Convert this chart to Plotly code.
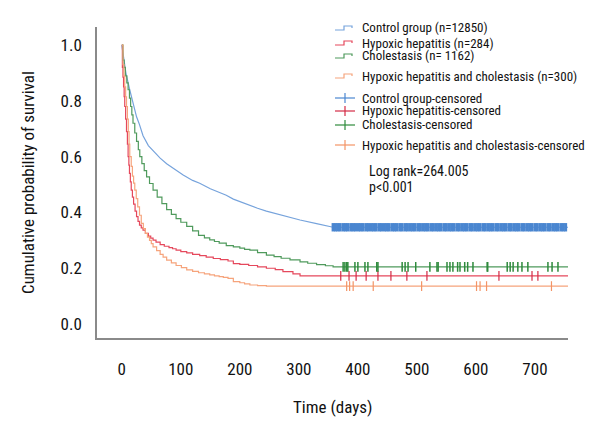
import plotly.graph_objects as go

# ---------------- data ----------------
ctrl_t = [0, 3, 7, 13.5, 20, 25, 30, 36, 45, 53, 65, 76, 90, 104, 120, 132, 150, 165, 177, 189,
          210, 230, 245, 270, 302, 330, 358, 756]
ctrl_s = [1.0, 0.95, 0.90, 0.84, 0.78, 0.743, 0.715, 0.675, 0.64, 0.622, 0.595, 0.575, 0.553, 0.534,
          0.515, 0.505, 0.485, 0.472, 0.462, 0.448, 0.43, 0.415, 0.405, 0.39, 0.373, 0.36, 0.347, 0.347]

hh_t = [0, 1, 2, 3, 4, 5, 6.5, 8, 9.5, 10.7, 12, 13, 14.5, 16, 18, 20, 22.5, 25, 27.5, 30, 33, 36,
        40, 45, 49, 53, 58, 65, 72, 80, 86, 92, 100, 110, 120, 132, 143, 155, 167, 180,
        189, 200, 215, 230, 245, 260, 273, 290, 302, 756]
hh_s = [1.0, 0.92, 0.885, 0.85, 0.815, 0.78, 0.735, 0.69, 0.645, 0.60, 0.57, 0.54, 0.51, 0.48,
        0.455, 0.43, 0.405, 0.385, 0.368, 0.355, 0.345, 0.337, 0.325, 0.315, 0.308, 0.301, 0.294,
        0.285, 0.279, 0.274, 0.27, 0.265, 0.26, 0.255, 0.25, 0.245, 0.24, 0.235, 0.231, 0.226,
        0.217, 0.214, 0.21, 0.205, 0.2, 0.195, 0.188, 0.18, 0.173, 0.173]

chol_t = [0, 2, 4, 6, 8.5, 10.7, 13, 15, 17, 19, 22, 25, 28, 30.5, 34, 38, 42, 47, 53, 60, 68, 76,
          84, 92, 100, 110, 120, 130, 140, 149, 157, 165, 177, 189, 200, 208, 217, 230, 245, 258,
          270, 285, 302, 315, 330, 345, 358, 756]
chol_s = [1.0, 0.946, 0.92, 0.89, 0.865, 0.84, 0.81, 0.78, 0.75, 0.72, 0.685, 0.655, 0.625, 0.60,
          0.575, 0.55, 0.528, 0.504, 0.48, 0.455, 0.432, 0.41, 0.393, 0.378, 0.365, 0.35, 0.334,
          0.318, 0.309, 0.302, 0.296, 0.29, 0.281, 0.277, 0.272, 0.268, 0.265, 0.256, 0.247, 0.242,
          0.236, 0.23, 0.223, 0.218, 0.213, 0.209, 0.205, 0.205]

hhc_t = [0, 2, 3.5, 5, 6.5, 8, 9.5, 11, 12.3, 13.5, 16, 18, 20, 22, 24.5, 27, 30, 33, 36.5, 40, 43.5,
         47, 50, 53, 59, 65, 70, 76, 84, 92, 101, 110, 120, 130, 140, 149, 157, 165, 172, 180,
         189, 200, 208, 217, 230, 245, 756]
hhc_s = [1.0, 0.93, 0.89, 0.85, 0.815, 0.78, 0.735, 0.69, 0.645, 0.60, 0.565, 0.53, 0.505, 0.48,
         0.45, 0.42, 0.39, 0.361, 0.342, 0.325, 0.312, 0.30, 0.288, 0.277, 0.263, 0.25, 0.24,
         0.229, 0.219, 0.21, 0.202, 0.194, 0.189, 0.184, 0.18, 0.176, 0.173, 0.17, 0.167, 0.164,
         0.152, 0.148, 0.144, 0.14, 0.138, 0.136, 0.136]

ctrl_cens = [358, 362, 366, 370, 375, 379, 383, 388, 392, 396, 401, 405, 409, 414, 418, 423, 427,
             431, 436, 440, 445, 449, 453, 458, 462, 466, 471, 475, 480, 484, 489, 493, 497, 502,
             506, 511, 515, 519, 524, 528, 533, 537, 541, 546, 550, 555, 559, 563, 568, 572, 577,
             581, 585, 590, 594, 599, 603, 607, 612, 616, 621, 625, 629, 634, 638, 643, 647, 651,
             656, 660, 665, 669, 673, 678, 682, 687, 691, 695, 700, 704, 709, 713, 717, 722, 726,
             731, 735, 739, 744, 748, 752]
hh_cens = [371, 385, 397, 414, 434, 456, 483, 517, 639, 695, 705]
chol_cens = [375, 378, 381, 383, 395, 400, 412, 417, 432, 434, 475, 480, 485, 498, 522, 534, 536,
             551, 556, 561, 569, 573, 581, 586, 595, 619, 620, 653, 658, 663, 671, 678, 688, 722,
             729, 739]
hhc_cens = [381, 386, 392, 426, 508, 601, 607, 618, 728]

legend_labels = ["Control group (n=12850)", "Hypoxic hepatitis (n=284)", "Cholestasis (n= 1162)",
                 "Hypoxic hepatitis and cholestasis (n=300)", "Control group-censored",
                 "Hypoxic hepatitis-censored", "Cholestasis-censored",
                 "Hypoxic hepatitis and cholestasis-censored"]
stat_lines = ["Log rank=264.005", "p<0.001"]

x_ticks = [0, 100, 200, 300, 400, 500, 600, 700]
y_ticks = [0.0, 0.2, 0.4, 0.6, 0.8, 1.0]

# ---------------- styling ----------------
FONT = "Roboto Condensed, Liberation Sans Narrow, Roboto, sans-serif"
OFF = 8                      # page body margin of the browser
W, H = 600 - OFF, 440 - OFF
# plot area in target-image pixels: x 97..568, y 27..338
L, T = 97 - OFF, 27 - OFF
PW, PH = 471, 311
R, B = W - L - PW, H - T - PH

col_line = {"ctrl": "#76a3dc", "hh": "#e5485c", "chol": "#4f9a5c", "hhc": "#f6a47c"}
col_cens = {"ctrl": "#4a86d0", "hh": "#d42a45", "chol": "#2e8a3c", "hhc": "#f39466"}


def px(x):  # target-image x pixel -> paper
    return (x - OFF - L) / PW


def py(y):  # target-image y pixel -> paper
    return (T + PH - (y - OFF)) / PH


fig = go.Figure()

curves = [("ctrl", ctrl_t, ctrl_s, "linear"), ("hh", hh_t, hh_s, "hv"),
          ("chol", chol_t, chol_s, "hv"), ("hhc", hhc_t, hhc_s, "hv")]
for key, t, s, shp in curves:
    fig.add_trace(go.Scatter(x=t, y=s, mode="lines", line=dict(color=col_line[key], width=1.2, shape=shp),
                             showlegend=False, hoverinfo="skip"))


def surv_at(t_list, s_list, tc):
    val = s_list[0]
    for tt, ss in zip(t_list, s_list):
        if tt <= tc:
            val = ss
    return val


cens = [("ctrl", ctrl_cens, ctrl_t, ctrl_s, 6, 3), ("hh", hh_cens, hh_t, hh_s, 7, 1.2),
        ("chol", chol_cens, chol_t, chol_s, 7, 1.5), ("hhc", hhc_cens, hhc_t, hhc_s, 7, 1.2)]
for key, ct, t, s, sz, lw in cens:
    fig.add_trace(go.Scatter(x=ct, y=[surv_at(t, s, c) for c in ct], mode="markers",
                             marker=dict(symbol="line-ns", size=sz, line=dict(color=col_cens[key], width=lw)),
                             showlegend=False, hoverinfo="skip"))

# ---------------- legend (manual) ----------------
leg_y = [28, 43, 56, 76, 98, 111, 125, 145]
leg_keys = ["ctrl", "hh", "chol", "hhc", "ctrl", "hh", "chol", "hhc"]
shapes = []
annotations = []
LEGSIZE = 13
for i, (lab, yy, k) in enumerate(zip(legend_labels, leg_y, leg_keys)):
    annotations.append(dict(x=px(360), y=py(yy), xref="paper", yref="paper", text=lab, showarrow=False,
                            xanchor="left", yanchor="middle",
                            font=dict(family=FONT, size=LEGSIZE, color="#111")))
    if i < 4:
        path = (f"M {px(335)} {py(yy + 2)} L {px(344)} {py(yy + 2)} L {px(344)} {py(yy - 2)} "
                f"L {px(352)} {py(yy - 2)} L {px(352)} {py(yy)}")
        shapes.append(dict(type="path", path=path, xref="paper", yref="paper",
                           line=dict(color=col_line[k], width=1.2)))
    else:
        shapes.append(dict(type="line", xref="paper", yref="paper", x0=px(335), x1=px(355),
                           y0=py(yy), y1=py(yy), line=dict(color=col_cens[k], width=1.2)))
        shapes.append(dict(type="line", xref="paper", yref="paper", x0=px(345), x1=px(345),
                           y0=py(yy - 5), y1=py(yy + 5), line=dict(color=col_cens[k], width=1.2)))

for txt, yy in zip(stat_lines, [171, 187]):
    annotations.append(dict(x=px(367), y=py(yy), xref="paper", yref="paper", text=txt, showarrow=False,
                            xanchor="left", yanchor="middle",
                            font=dict(family=FONT, size=LEGSIZE + 1, color="#111")))

# axis titles
annotations.append(dict(x=px(332), y=py(407), xref="paper", yref="paper", text="Time (days)",
                        showarrow=False, xanchor="center", yanchor="middle",
                        font=dict(family=FONT, size=17, color="#111")))
annotations.append(dict(x=px(28), y=py(183), xref="paper", yref="paper",
                        text="Cumulative probability of survival", textangle=-90,
                        showarrow=False, xanchor="center", yanchor="middle",
                        font=dict(family=FONT, size=17, color="#111")))

fig.update_layout(
    width=W, height=H, margin=dict(l=L, r=R, t=T, b=B),
    paper_bgcolor="white", plot_bgcolor="white",
    font=dict(family=FONT, size=17, color="#111"),
    shapes=shapes, annotations=annotations, showlegend=False,
)
fig.update_xaxes(range=[-42, 756], tickvals=x_ticks, showgrid=False, zeroline=False,
                 showline=True, linecolor="#8a8a8a", linewidth=1.5, ticks="", ticklabelstandoff=15,
                 tickfont=dict(family=FONT, size=17, color="#111"))
fig.update_yaxes(range=[-0.05, 1.065], tickvals=y_ticks, tickformat=".1f", showgrid=False,
                 zeroline=False, showline=True, linecolor="#8a8a8a", linewidth=1.5, ticks="",
                 ticklabelstandoff=10, tickfont=dict(family=FONT, size=17, color="#111"))

fig.write_html("out.html")
